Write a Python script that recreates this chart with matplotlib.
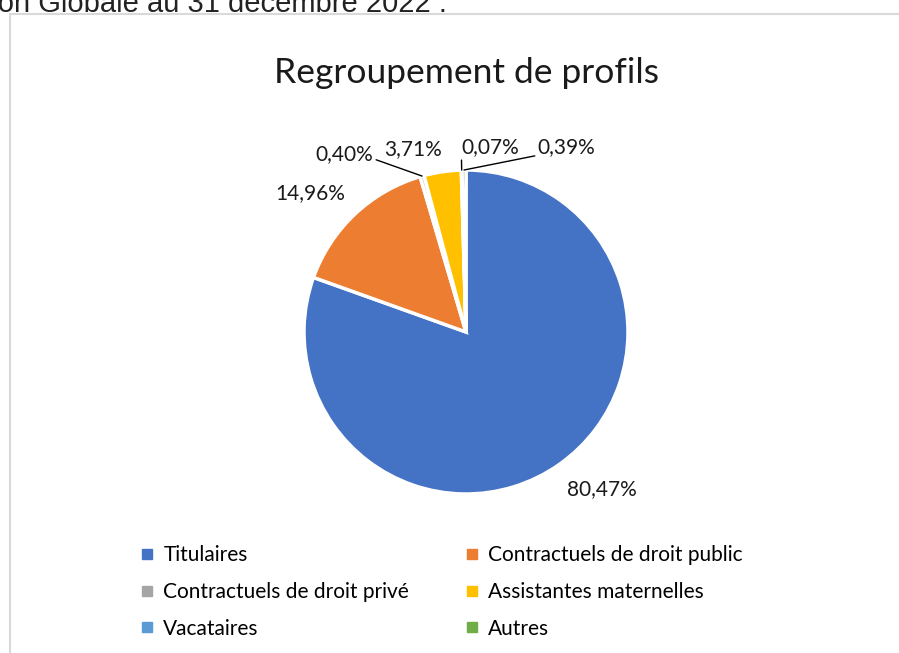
import numpy as np
import matplotlib
matplotlib.use('Agg')
from matplotlib import pyplot as plt
from matplotlib.patches import Rectangle
from matplotlib.lines import Line2D

categories = ['Titulaires', 'Contractuels de droit public', 'Contractuels de droit privé',
              'Assistantes maternelles', 'Vacataires', 'Autres']
values = [80.47, 14.96, 0.40, 3.71, 0.07, 0.39]
colors = ['#4472C4', '#ED7D31', '#A5A5A5', '#FFC000', '#5B9BD5', '#70AD47']

# label layout (data units of the pie, radius = 1) and leader line anchor on the label
label_pos = [(0.84, -0.97), (-0.96, 0.86), (-0.75, 1.10), (-0.33, 1.13), (0.15, 1.14), (0.62, 1.14)]
leader = [None, None, (1.0, 0.25), None, (0.0, 0.1), (0.0, 0.1)]

plt.rcParams['font.family'] = ['Lato', 'DejaVu Sans']

W, H = 899, 653
fig = plt.figure(figsize=(W / 100, H / 100), dpi=100)

# chart frame (cut by the page)
fig.add_artist(Rectangle((10 / W, -0.1), 1.2, 1 - 14 / H + 0.1, transform=fig.transFigure,
                         fill=False, edgecolor='#d9d9d9', linewidth=1.5))

# heading from the page, cut at the top
fig.text(447 / W, 1 - 12 / H, 'Répartition Globale au 31 décembre 2022 :', ha='right',
         va='baseline', fontsize=21, family=['Liberation Sans', 'DejaVu Sans'], color='#222222')

fig.text(466 / W, 1 - 73 / H, 'Regroupement de profils', ha='center', va='center',
         fontsize=25.5, color='#1a1a1a')

# pie axes: centre (466, 332) px, radius 162 px
cx, cy, R, S = 466, 332, 162, 250
ax = fig.add_axes([(cx - S) / W, (H - cy - S) / H, 2 * S / W, 2 * S / H])
ax.axis('off')

wedges, _ = ax.pie(values, colors=colors, startangle=90, counterclock=False, radius=1,
                   wedgeprops=dict(edgecolor='white', linewidth=2.5))
lim = S / R
ax.set_xlim(-lim, lim)
ax.set_ylim(-lim, lim)
ax.set_aspect('equal')

for w, v, pos, rel in zip(wedges, values, label_pos, leader):
    txt = f'{v:.2f}%'.replace('.', ',')
    mid = np.deg2rad((w.theta1 + w.theta2) / 2)
    edge = (np.cos(mid), np.sin(mid))
    if rel is None:
        ax.text(pos[0], pos[1], txt, ha='center', va='center', fontsize=15, color='#1a1a1a')
    else:
        ax.annotate(txt, xy=edge, xytext=pos, ha='center', va='center', fontsize=15,
                    color='#1a1a1a',
                    arrowprops=dict(arrowstyle='-', color='black', lw=1, relpos=rel,
                                    shrinkA=0, shrinkB=0))

# Excel fills the legend row by row, matplotlib column by column
order = [0, 2, 4, 1, 3, 5]
handles = [Line2D([], [], marker='s', linestyle='none', markersize=7, color=colors[i]) for i in order]
fig.legend(handles, [categories[i] for i in order], ncol=2, loc='upper left',
           bbox_to_anchor=(132 / W, 1 - 537 / H), frameon=False, fontsize=15,
           handlelength=0.6, handletextpad=0.5, columnspacing=2.7, labelspacing=0.8,
           borderaxespad=0)

fig.savefig('out.png', dpi=100, facecolor='white')
